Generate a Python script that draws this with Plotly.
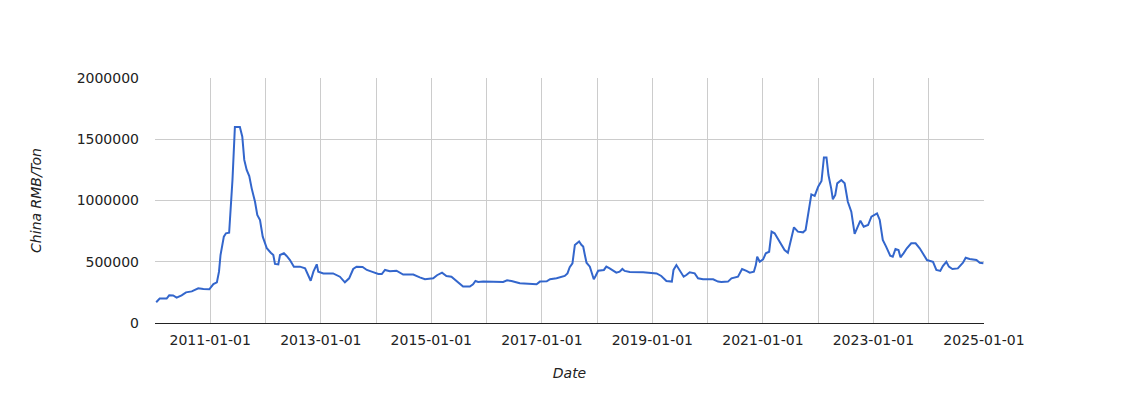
import plotly.graph_objects as go

dates = [
    "2010-01-09", "2010-02-01", "2010-03-19", "2010-04-05", "2010-05-01", "2010-05-24",
    "2010-06-26", "2010-07-25", "2010-09-01", "2010-10-14", "2010-11-17", "2010-12-26",
    "2011-01-22", "2011-02-14", "2011-02-28", "2011-03-10", "2011-04-01", "2011-04-15",
    "2011-05-06", "2011-05-15", "2011-05-28", "2011-06-13", "2011-07-16", "2011-08-01",
    "2011-08-14", "2011-08-30", "2011-09-16", "2011-10-02", "2011-10-24", "2011-11-08",
    "2011-11-26", "2011-12-14", "2012-01-10", "2012-02-05", "2012-02-22", "2012-03-04",
    "2012-03-26", "2012-04-06", "2012-05-02", "2012-05-20", "2012-06-11", "2012-07-07",
    "2012-08-16", "2012-09-19", "2012-10-10", "2012-10-26", "2012-11-13", "2012-12-05",
    "2012-12-15", "2013-01-18", "2013-03-23", "2013-05-07", "2013-06-09", "2013-07-07",
    "2013-08-03", "2013-08-25", "2013-10-04", "2013-11-01", "2013-12-03", "2014-01-16",
    "2014-02-08", "2014-03-01", "2014-04-02", "2014-05-16", "2014-06-29", "2014-09-04",
    "2014-10-17", "2014-11-20", "2015-01-14", "2015-02-08", "2015-03-13", "2015-04-11",
    "2015-05-14", "2015-06-16", "2015-07-30", "2015-09-13", "2015-10-04", "2015-10-20",
    "2015-11-07", "2015-12-10", "2016-04-20", "2016-05-16", "2016-06-14", "2016-08-08",
    "2016-10-13", "2016-11-27", "2016-12-19", "2017-02-02", "2017-02-24", "2017-04-08",
    "2017-06-01", "2017-06-19", "2017-07-04", "2017-07-22", "2017-08-07", "2017-08-18",
    "2017-09-04", "2017-09-20", "2017-10-01", "2017-10-12", "2017-10-23", "2017-11-14",
    "2017-11-30", "2017-12-10", "2017-12-22", "2018-01-08", "2018-02-15", "2018-03-03",
    "2018-03-25", "2018-05-08", "2018-05-30", "2018-06-17", "2018-07-02", "2018-08-05",
    "2018-11-01", "2019-01-29", "2019-03-01", "2019-04-04", "2019-05-10", "2019-05-21",
    "2019-06-09", "2019-06-26", "2019-07-12", "2019-07-27", "2019-08-14", "2019-09-05",
    "2019-10-08", "2019-10-30", "2019-12-02", "2020-02-07", "2020-03-10", "2020-04-01",
    "2020-05-15", "2020-06-07", "2020-07-20", "2020-08-16", "2020-09-14", "2020-10-06",
    "2020-11-02", "2020-11-15", "2020-11-24", "2020-12-11", "2021-01-02", "2021-01-20",
    "2021-02-11", "2021-02-27", "2021-03-19", "2021-04-21", "2021-05-24", "2021-06-15",
    "2021-07-01", "2021-07-25", "2021-08-20", "2021-09-23", "2021-10-10", "2021-10-25",
    "2021-11-17", "2021-12-09", "2022-01-01", "2022-01-23", "2022-02-08", "2022-02-25",
    "2022-03-10", "2022-03-28", "2022-04-08", "2022-04-24", "2022-05-07", "2022-06-03",
    "2022-06-25", "2022-07-16", "2022-08-08", "2022-08-30", "2022-09-10", "2022-10-07",
    "2022-10-29", "2022-11-27", "2022-12-19", "2023-01-25", "2023-02-12", "2023-03-04",
    "2023-03-26", "2023-04-22", "2023-05-09", "2023-05-27", "2023-06-16", "2023-06-29",
    "2023-07-19", "2023-08-10", "2023-09-08", "2023-10-07", "2023-11-03", "2023-11-29",
    "2023-12-21", "2024-01-30", "2024-02-21", "2024-03-18", "2024-04-04", "2024-04-27",
    "2024-05-14", "2024-06-06", "2024-07-12", "2024-08-15", "2024-09-02", "2024-09-28",
    "2024-11-12", "2024-12-04", "2024-12-28",
]

prices = [
    169000, 199000, 199000, 226000, 225000, 207000,
    226000, 250000, 258000, 283000, 278000, 275000,
    318000, 332000, 419000, 555000, 705000, 732000,
    737000, 922000, 1167000, 1600000, 1600000, 1521000,
    1331000, 1249000, 1200000, 1099000, 990000, 882000,
    841000, 705000, 610000, 574000, 555000, 482000,
    479000, 555000, 569000, 547000, 514000, 460000,
    460000, 446000, 392000, 345000, 419000, 479000,
    419000, 405000, 405000, 378000, 332000, 365000,
    441000, 460000, 457000, 433000, 419000, 400000,
    400000, 433000, 422000, 427000, 395000, 395000,
    373000, 357000, 365000, 390000, 411000, 384000,
    378000, 345000, 297000, 297000, 316000, 343000,
    335000, 338000, 335000, 348000, 343000, 324000,
    316000, 316000, 338000, 340000, 357000, 365000,
    384000, 405000, 455000, 487000, 637000, 651000,
    665000, 637000, 624000, 555000, 492000, 460000,
    405000, 357000, 384000, 427000, 433000, 460000,
    446000, 411000, 419000, 441000, 425000, 416000,
    414000, 405000, 384000, 343000, 338000, 433000,
    473000, 441000, 405000, 378000, 392000, 414000,
    405000, 365000, 357000, 357000, 338000, 335000,
    338000, 365000, 378000, 441000, 425000, 411000,
    419000, 473000, 541000, 500000, 519000, 569000,
    582000, 746000, 732000, 664000, 596000, 574000,
    651000, 781000, 746000, 740000, 759000, 882000,
    1050000, 1038000, 1113000, 1159000, 1352000, 1352000,
    1208000, 1099000, 1010000, 1045000, 1140000, 1167000,
    1140000, 990000, 909000, 727000, 759000, 835000,
    786000, 800000, 868000, 895000, 841000, 678000,
    624000, 550000, 541000, 604000, 596000, 536000,
    569000, 610000, 651000, 651000, 610000, 555000,
    514000, 500000, 433000, 425000, 465000, 500000,
    460000, 441000, 446000, 492000, 533000, 522000,
    514000, 492000, 487000,
]

x_title = "Date"
y_title = "China RMB/Ton"

fig = go.Figure(
    go.Scatter(
        x=dates, y=prices, mode="lines",
        line=dict(color="#3366cc", width=2),
        showlegend=False,
    )
)

tick_font = dict(family="DejaVu Sans, sans-serif", size=14, color="#222222")
title_font = dict(family="DejaVu Sans, sans-serif", size=14, color="#222222")

fig.update_layout(
    width=1140, height=400,
    margin=dict(l=147, r=164, t=70, b=85),
    paper_bgcolor="white", plot_bgcolor="white",
    font=dict(family="DejaVu Sans, sans-serif", size=14, color="#222222"),
)

fig.update_xaxes(
    type="date",
    range=["2010-01-01", "2025-01-01"],
    tick0="2011-01-01", dtick="M24", tickformat="%Y-%m-%d",
    showgrid=True, gridcolor="#cccccc", gridwidth=1,
    minor=dict(dtick="M12", tick0="2011-01-01", showgrid=True, gridcolor="#cccccc", gridwidth=1),
    showline=True, linecolor="#222222", linewidth=1,
    zeroline=False, automargin=False,
    ticks="", ticklabelstandoff=4,
    tickfont=tick_font,
    title=dict(text="<i>" + x_title + "</i>", standoff=21, font=title_font),
)

fig.update_yaxes(
    range=[0, 2000000],
    tick0=0, dtick=500000, tickformat="d",
    showgrid=True, gridcolor="#cccccc", gridwidth=1,
    zeroline=False, showline=False, automargin=False,
    ticks="", ticklabelstandoff=15,
    tickfont=tick_font,
    title=dict(text="<i>" + y_title + "</i>", standoff=31, font=title_font),
)

fig.write_html("out.html")
